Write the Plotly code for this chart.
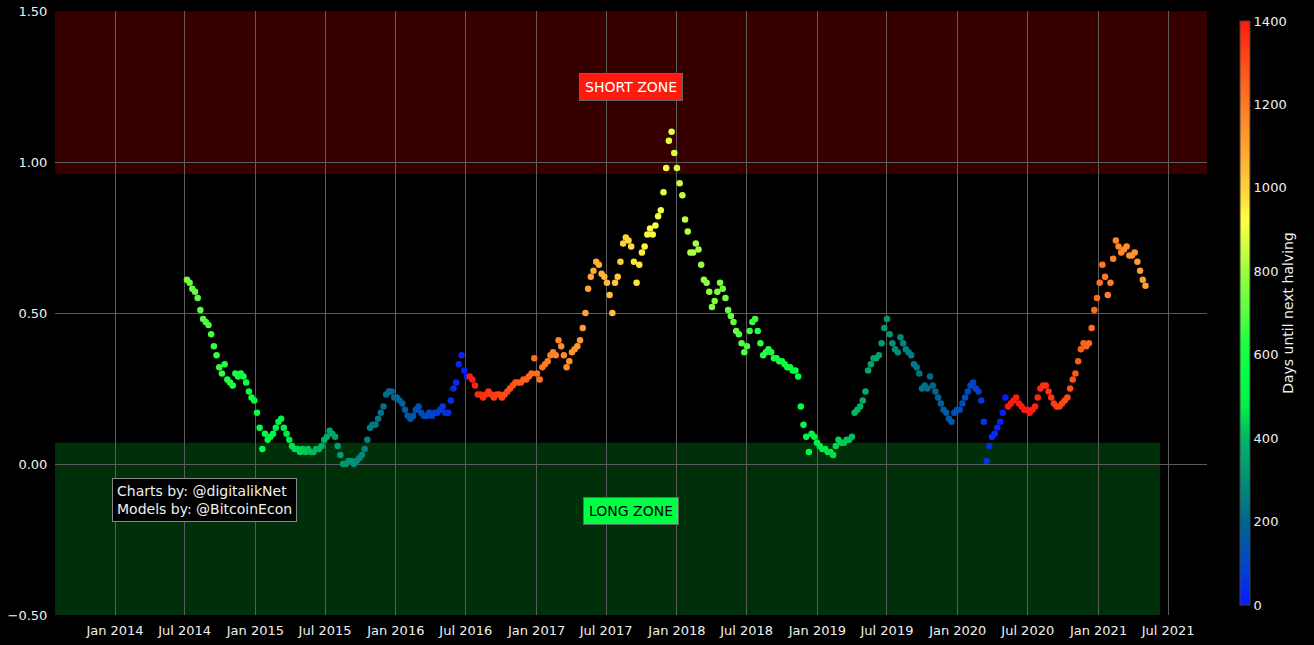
import pandas as pd
import plotly.graph_objects as go

# ---- data (weekly readings of the oscillator, starting 2014-07-07) ----
start_date = "2014-07-07"
oscillator = [
    # H2 2014
    0.61, 0.60, 0.58, 0.57, 0.55, 0.51, 0.48, 0.47, 0.46, 0.43, 0.39, 0.36, 0.32,
    0.30, 0.33, 0.28, 0.27, 0.26, 0.30, 0.29, 0.30, 0.29, 0.27, 0.24, 0.22, 0.21,
    # H1 2015
    0.17, 0.12, 0.05, 0.10, 0.08, 0.09, 0.10, 0.12, 0.14, 0.15, 0.12, 0.10, 0.08,
    0.06, 0.05, 0.05, 0.04, 0.05, 0.04, 0.05, 0.04, 0.04, 0.05, 0.05, 0.06, 0.08,
    # H2 2015
    0.09, 0.11, 0.10, 0.09, 0.06, 0.03, 0.00, 0.00, 0.01, 0.01, 0.00, 0.01, 0.02,
    0.03, 0.05, 0.08, 0.12, 0.13, 0.13, 0.15, 0.17, 0.19, 0.23, 0.24, 0.24, 0.22,
    # H1 2016
    0.22, 0.21, 0.20, 0.18, 0.16, 0.15, 0.16, 0.18, 0.19, 0.17, 0.16, 0.16, 0.17,
    0.16, 0.17, 0.17, 0.18, 0.19, 0.17, 0.17, 0.21, 0.25, 0.27, 0.33, 0.36, 0.31,
    # H2 2016
    0.29, 0.29, 0.28, 0.26, 0.23, 0.23, 0.22, 0.23, 0.24, 0.23, 0.22, 0.23, 0.23,
    0.22, 0.23, 0.24, 0.25, 0.26, 0.27, 0.27, 0.27, 0.28, 0.28, 0.29, 0.30, 0.35,
    # H1 2017
    0.30, 0.28, 0.32, 0.33, 0.34, 0.36, 0.37, 0.36, 0.41, 0.39, 0.36, 0.32, 0.34,
    0.37, 0.38, 0.39, 0.41, 0.45, 0.50, 0.58, 0.62, 0.64, 0.67, 0.66, 0.63, 0.62,
    # H2 2017
    0.60, 0.56, 0.50, 0.60, 0.62, 0.67, 0.73, 0.75, 0.74, 0.72, 0.67, 0.60, 0.66,
    0.70, 0.72, 0.76, 0.78, 0.76, 0.79, 0.82, 0.84, 0.90, 0.98, 1.07, 1.10, 1.03,
    # H1 2018
    0.98, 0.93, 0.89, 0.81, 0.77, 0.70, 0.70, 0.73, 0.71, 0.66, 0.61, 0.60, 0.57,
    0.52, 0.54, 0.57, 0.60, 0.58, 0.55, 0.51, 0.49, 0.47, 0.44, 0.43, 0.40, 0.37,
    # H2 2018
    0.39, 0.44, 0.47, 0.48, 0.44, 0.40, 0.36, 0.37, 0.38, 0.37, 0.35, 0.35, 0.34,
    0.34, 0.33, 0.32, 0.32, 0.31, 0.31, 0.29, 0.19, 0.13, 0.09, 0.04, 0.10, 0.09,
    # H1 2019
    0.07, 0.06, 0.05, 0.05, 0.04, 0.04, 0.03, 0.06, 0.08, 0.07, 0.07, 0.08, 0.08,
    0.09, 0.17, 0.18, 0.19, 0.21, 0.24, 0.31, 0.33, 0.35, 0.35, 0.36, 0.40, 0.45,
    # H2 2019
    0.48, 0.43, 0.40, 0.38, 0.37, 0.42, 0.40, 0.38, 0.37, 0.36, 0.33, 0.32, 0.30,
    0.25, 0.26, 0.25, 0.29, 0.26, 0.24, 0.22, 0.20, 0.18, 0.17, 0.15, 0.14, 0.17,
    # H1 2020
    0.18, 0.18, 0.20, 0.22, 0.24, 0.26, 0.27, 0.25, 0.24, 0.21, 0.14, 0.01, 0.06,
    0.09, 0.10, 0.12, 0.14, 0.17, 0.22, 0.19, 0.20, 0.21, 0.22, 0.20, 0.19, 0.18,
    # H2 2020
    0.18, 0.17, 0.18, 0.19, 0.22, 0.25, 0.26, 0.26, 0.24, 0.22, 0.20, 0.19, 0.19,
    0.20, 0.21, 0.22, 0.25, 0.28, 0.30, 0.34, 0.38, 0.40, 0.39, 0.40, 0.45, 0.51,
    # 2021
    0.55, 0.60, 0.66, 0.62, 0.56, 0.60, 0.68, 0.74, 0.72, 0.70, 0.71, 0.72, 0.69,
    0.69, 0.70, 0.67, 0.64, 0.61, 0.59,
]
halving_dates = ["2012-11-28", "2016-07-09", "2020-05-11", "2024-05-04"]

x_tick_vals = pd.date_range("2014-01-01", "2021-07-01", freq="6MS")
y_tick_vals = [-0.5, 0.0, 0.5, 1.0, 1.5]
color_ticks = [0, 200, 400, 600, 800, 1000, 1200, 1400]

short_zone = [0.96, 1.5]
long_zone = [-0.5, 0.07]
long_zone_end = "2021-06-10"
x_range = ["2013-07-29", "2021-10-10"]

# ---- derived ----
dates = pd.date_range(start_date, periods=len(oscillator), freq="7D")
halvings = pd.to_datetime(halving_dates)
days_until = []
for d in dates:
    nxt = min(h for h in halvings if h > d)
    days_until.append((nxt - d).days)

colorscale = [
    [0.0, "#0a1aff"], [0.07, "#0046c8"], [0.143, "#00688e"], [0.214, "#009078"],
    [0.286, "#00b862"], [0.34, "#00f048"], [0.39, "#00ff44"], [0.45, "#20ff40"],
    [0.5, "#58ff40"], [0.571, "#98ff40"], [0.62, "#d8ff40"], [0.66, "#ffff40"],
    [0.714, "#ffd03a"], [0.786, "#ffa030"], [0.857, "#ff7a24"], [0.929, "#ff4c18"],
    [1.0, "#ff1a10"],
]

font_family = "DejaVu Sans, Verdana, sans-serif"
grid = "#5c5c5c"

fig = go.Figure()
fig.add_trace(go.Scatter(
    x=dates, y=oscillator, mode="markers",
    marker=dict(
        size=6.5, color=days_until, cmin=0, cmax=1400, colorscale=colorscale,
        line=dict(width=0),
        colorbar=dict(
            title=dict(text="Days until next halving", side="right",
                       font=dict(size=14, color="#f0f0f0", family=font_family)),
            tickvals=color_ticks, thickness=10, len=1, ypad=10,
            outlinecolor="#444444", outlinewidth=1,
            tickfont=dict(size=13, color="#f0f0f0", family=font_family),
        ),
    ),
    showlegend=False, hoverinfo="x+y",
))

fig.add_shape(type="rect", xref="paper", yref="y", x0=0, x1=1,
              y0=short_zone[0], y1=short_zone[1],
              fillcolor="rgba(255,0,0,0.21)", line=dict(width=0), layer="below")
fig.add_shape(type="rect", xref="x", yref="y", x0=x_range[0], x1=long_zone_end,
              y0=long_zone[0], y1=long_zone[1],
              fillcolor="rgba(0,255,50,0.19)", line=dict(width=0), layer="below")

fig.add_annotation(x=0.5, xref="paper", y=1.25, yref="y", text="SHORT ZONE",
                   showarrow=False, bgcolor="#ff1a10", bordercolor="#666666",
                   borderwidth=1, borderpad=5,
                   font=dict(size=14, color="white", family=font_family))
fig.add_annotation(x=0.5, xref="paper", y=-0.155, yref="y", text="LONG ZONE",
                   showarrow=False, bgcolor="#00ff44", bordercolor="#666666",
                   borderwidth=1, borderpad=5,
                   font=dict(size=14, color="black", family=font_family))
fig.add_annotation(x=0.0495, xref="paper", y=0.227, yref="paper",
                   xanchor="left", yanchor="top", align="left",
                   text="Charts by: @digitalikNet<br>Models by: @BitcoinEcon",
                   showarrow=False, bgcolor="black", bordercolor="#888888",
                   borderwidth=1, borderpad=4,
                   font=dict(size=14, color="#f0f0f0", family=font_family))

fig.update_layout(
    width=1314, height=645,
    margin=dict(l=55, r=107, t=11, b=30, autoexpand=False),
    paper_bgcolor="black", plot_bgcolor="black",
    font=dict(family=font_family, color="#f0f0f0", size=13),
    xaxis=dict(range=x_range, tickvals=x_tick_vals, tickformat="%b %Y",
               showgrid=True, gridcolor=grid, gridwidth=1, zeroline=False,
               showline=False, automargin=False,
               ticks="outside", ticklen=3, tickcolor="rgba(0,0,0,0)",
               tickfont=dict(size=13, color="#f0f0f0")),
    yaxis=dict(range=[-0.5, 1.5], tickvals=y_tick_vals, tickformat=".2f",
               showgrid=True, gridcolor=grid, gridwidth=1, zeroline=False,
               showline=False, automargin=False,
               ticks="outside", ticklen=4, tickcolor="rgba(0,0,0,0)",
               tickfont=dict(size=13, color="#f0f0f0")),
)

fig.write_html(
    "out.html",
    config={"displayModeBar": False},
    post_script="document.body.style.margin='0px';document.body.style.background='black';",
)
